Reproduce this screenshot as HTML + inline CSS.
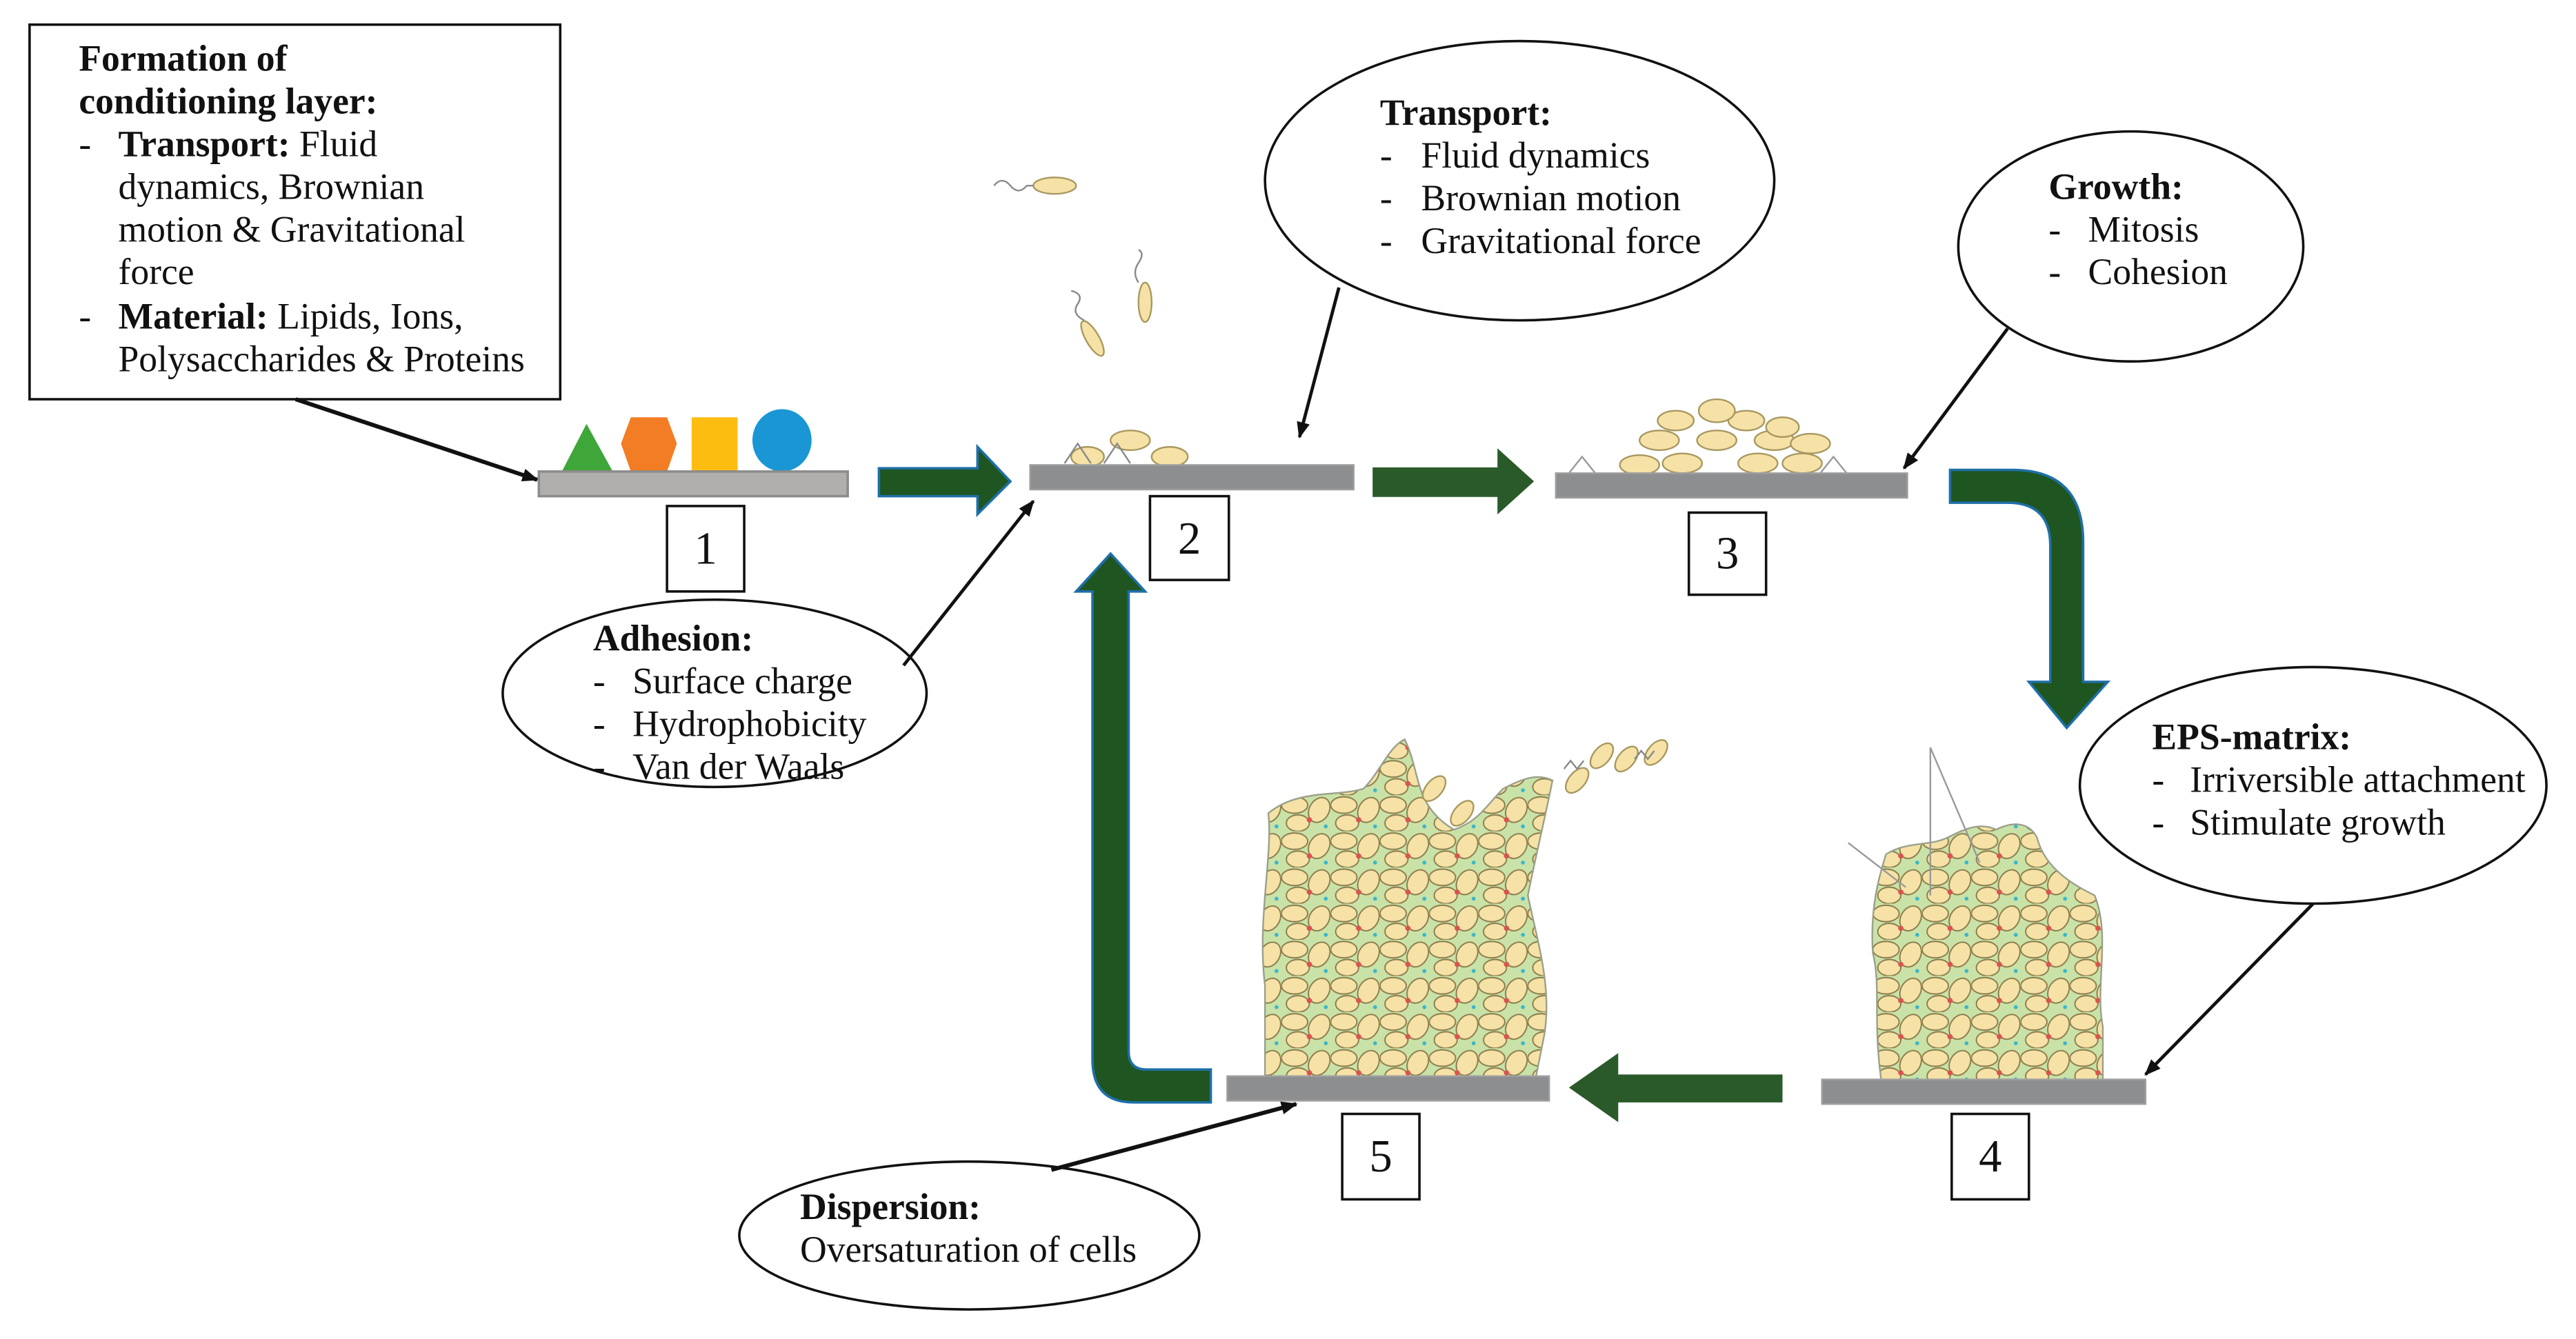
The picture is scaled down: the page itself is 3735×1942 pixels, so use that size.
<!DOCTYPE html>
<html><head><meta charset="utf-8"><style>
html,body{margin:0;padding:0;background:#fff}
svg{display:block}
text{font-family:"Liberation Serif",serif;font-size:22.5px;fill:#111}
.b{font-weight:bold}
</style></head><body>
<svg width="3735" height="1942" viewBox="0 0 1568 815" preserveAspectRatio="none" xmlns="http://www.w3.org/2000/svg">
<defs>
<marker id="ah" markerWidth="10" markerHeight="8" refX="9" refY="4" orient="auto" markerUnits="userSpaceOnUse"><path d="M0,0 L10,4 L0,8 z" fill="#111"/></marker>
<pattern id="cells" width="30" height="22" patternUnits="userSpaceOnUse">
<rect width="30" height="22" fill="#c9e2a8"/>
<ellipse cx="8" cy="6" rx="8" ry="5" fill="#f6e2a6" stroke="#8a7a4a" stroke-width="0.8"/>
<ellipse cx="23" cy="9" rx="6" ry="8" fill="#f6e2a6" stroke="#8a7a4a" stroke-width="0.8" transform="rotate(30 23 9)"/>
<ellipse cx="10" cy="17" rx="7" ry="5" fill="#f6e2a6" stroke="#8a7a4a" stroke-width="0.8"/>
<circle cx="17" cy="15" r="1.6" fill="#d9534f"/>
<circle cx="27" cy="19" r="1.2" fill="#3bb6c8"/>
</pattern>
<clipPath id="b5"><path d="M770,655 L770,600 C765,560 775,520 772,495 C790,480 815,485 830,480 C840,470 845,455 855,450 C865,470 860,490 885,505 C900,500 905,490 915,480 C925,475 935,470 945,475 C940,500 935,520 930,545 C935,570 945,600 940,630 L935,655 Z"/></clipPath>
<clipPath id="b4"><path d="M1145,657 C1140,620 1145,600 1140,580 C1138,550 1145,530 1148,520 C1160,512 1175,515 1185,510 C1195,505 1205,500 1215,505 C1225,500 1235,500 1240,510 C1245,530 1265,540 1275,545 C1285,570 1275,600 1280,625 L1280,657 Z"/></clipPath>
</defs>

<!-- Box 1 -->
<rect x="18" y="15" width="323" height="228" fill="#fff" stroke="#111" stroke-width="1.5"/>
<text x="48" y="43" class="b">Formation of</text>
<text x="48" y="69" class="b">conditioning layer:</text>
<text x="48" y="95">-</text><text x="72" y="95"><tspan class="b">Transport:</tspan> Fluid</text>
<text x="72" y="121">dynamics, Brownian</text>
<text x="72" y="147">motion &amp; Gravitational</text>
<text x="72" y="173">force</text>
<text x="48" y="200">-</text><text x="72" y="200"><tspan class="b">Material:</tspan> Lipids, Ions,</text>
<text x="72" y="226">Polysaccharides &amp; Proteins</text>
<line x1="180" y1="243" x2="327" y2="292" stroke="#111" stroke-width="2.5" marker-end="url(#ah)"/>

<!-- Stage 1 -->
<polygon points="342,287 357,258 373,287" fill="#3fa63a"/>
<polygon points="384,254 406,254 412,270 406,287 384,287 378,270" fill="#f37d24"/>
<rect x="421" y="254" width="28" height="33" fill="#fdbd10"/>
<ellipse cx="476" cy="268" rx="18" ry="19" fill="#1b96d4"/>
<rect x="328" y="287" width="188" height="15" fill="#b1aeae" stroke="#8c8c8c" stroke-width="1.5"/>
<rect x="406" y="308" width="47" height="52" fill="#fff" stroke="#111" stroke-width="1.5"/>
<text x="429.5" y="343" text-anchor="middle" style="font-size:28px">1</text>

<!-- green arrow 1->2 -->
<path d="M535,285 L595,285 L595,272 L615,293 L595,313 L595,302 L535,302 Z" fill="#1f5520" stroke="#1f6fa8" stroke-width="1.5"/>

<!-- Stage 2 -->
<g fill="#f6e2a6" stroke="#a89860" stroke-width="1">
<ellipse cx="642" cy="113" rx="13" ry="5"/>
<ellipse cx="697" cy="184" rx="4" ry="12"/>
<ellipse cx="665" cy="206" rx="4" ry="12" transform="rotate(-30 665 206)"/>
<ellipse cx="662" cy="278" rx="10" ry="6"/><ellipse cx="688" cy="268" rx="12" ry="6"/><ellipse cx="712" cy="278" rx="11" ry="6"/>
</g>
<g fill="none" stroke="#888" stroke-width="1"><path d="M605,113 q5,-6 10,0 t10,0 l4,0"/><path d="M693,172 q-4,-6 0,-12 t0,-8"/><path d="M660,195 q-8,-4 -4,-10 t-4,-8"/><path d="M648,282 l8,-12 l8,12 M672,282 l8,-12 l8,12"/></g>
<rect x="627" y="283" width="197" height="15" fill="#8d8e90" stroke="#a0a0a0"/>
<rect x="700" y="302" width="48" height="51" fill="#fff" stroke="#111" stroke-width="1.5"/>
<text x="724" y="337" text-anchor="middle" style="font-size:28px">2</text>

<!-- Transport ellipse -->
<ellipse cx="925" cy="110" rx="155" ry="85" fill="#fff" stroke="#111" stroke-width="1.5"/>
<text x="840" y="76" class="b">Transport:</text>
<text x="840" y="102">-</text><text x="865" y="102">Fluid dynamics</text>
<text x="840" y="128">-</text><text x="865" y="128">Brownian motion</text>
<text x="840" y="154">-</text><text x="865" y="154">Gravitational force</text>
<line x1="815" y1="175" x2="791" y2="266" stroke="#111" stroke-width="2" marker-end="url(#ah)"/>

<!-- green arrow 2->3 -->
<path d="M836,285 L912,285 L912,274 L933,293 L912,312 L912,302 L836,302 Z" fill="#2a5a2a" stroke="#2a5a2a"/>

<!-- Stage 3 -->
<g fill="#f6e2a6" stroke="#a89860" stroke-width="1">
<ellipse cx="998" cy="283" rx="12" ry="6"/><ellipse cx="1024" cy="282" rx="12" ry="6"/><ellipse cx="1070" cy="282" rx="12" ry="6"/><ellipse cx="1097" cy="282" rx="12" ry="6"/>
<ellipse cx="1010" cy="268" rx="12" ry="6"/><ellipse cx="1045" cy="268" rx="12" ry="6"/><ellipse cx="1080" cy="268" rx="12" ry="6"/><ellipse cx="1102" cy="270" rx="12" ry="6"/>
<ellipse cx="1020" cy="256" rx="11" ry="6"/><ellipse cx="1063" cy="256" rx="11" ry="6"/><ellipse cx="1045" cy="250" rx="11" ry="7"/><ellipse cx="1085" cy="260" rx="10" ry="6"/>
</g>
<path d="M955,288 l8,-10 l8,10 M1108,288 l8,-10 l8,10" fill="none" stroke="#999"/>
<rect x="947" y="288" width="214" height="15" fill="#8d8e90" stroke="#a0a0a0"/>
<rect x="1028" y="312" width="47" height="50" fill="#fff" stroke="#111" stroke-width="1.5"/>
<text x="1051.5" y="346" text-anchor="middle" style="font-size:28px">3</text>

<!-- Growth -->
<ellipse cx="1297" cy="150" rx="105" ry="70" fill="#fff" stroke="#111" stroke-width="1.5"/>
<text x="1247" y="121" class="b">Growth:</text>
<text x="1247" y="147">-</text><text x="1271" y="147">Mitosis</text>
<text x="1247" y="173">-</text><text x="1271" y="173">Cohesion</text>
<line x1="1222" y1="200" x2="1159" y2="285" stroke="#111" stroke-width="2" marker-end="url(#ah)"/>

<!-- curved arrow 3->4 -->
<path d="M1187,286 L1225,286 Q1268,286 1268,330 L1268,415 L1283,415 L1258,443 L1235,415 L1248,415 L1248,332 Q1248,306 1222,306 L1187,306 Z" fill="#1f5520" stroke="#1f6fa8" stroke-width="1.5"/>

<!-- EPS ellipse -->
<ellipse cx="1408" cy="478" rx="142" ry="72" fill="#fff" stroke="#111" stroke-width="1.5"/>
<text x="1310" y="456" class="b">EPS-matrix:</text>
<text x="1310" y="482">-</text><text x="1333" y="482">Irriversible attachment</text>
<text x="1310" y="508">-</text><text x="1333" y="508">Stimulate growth</text>
<line x1="1408" y1="550" x2="1306" y2="654" stroke="#111" stroke-width="2" marker-end="url(#ah)"/>

<!-- Stage 4 -->
<g clip-path="url(#b4)"><rect x="1130" y="490" width="160" height="170" fill="url(#cells)"/></g>
<path d="M1145,657 C1140,620 1145,600 1140,580 C1138,550 1145,530 1148,520 C1160,512 1175,515 1185,510 C1195,505 1205,500 1215,505 C1225,500 1235,500 1240,510 C1245,530 1265,540 1275,545 C1285,570 1275,600 1280,625 L1280,657" fill="none" stroke="#9aa08a" stroke-width="1"/>
<path d="M1175,545 L1175,455 L1205,525 M1125,513 L1160,540" fill="none" stroke="#999"/>
<rect x="1109" y="657" width="197" height="15" fill="#8d8e90" stroke="#a0a0a0"/>
<rect x="1188" y="678" width="47" height="52" fill="#fff" stroke="#111" stroke-width="1.5"/>
<text x="1211.5" y="713" text-anchor="middle" style="font-size:28px">4</text>

<!-- arrow 4->5 -->
<path d="M1085,654 L985,654 L985,641 L955,662 L985,683 L985,671 L1085,671 Z" fill="#2a5a2a"/>

<!-- Stage 5 -->
<g clip-path="url(#b5)"><rect x="760" y="440" width="200" height="220" fill="url(#cells)"/></g>
<path d="M770,655 L770,600 C765,560 775,520 772,495 C790,480 815,485 830,480 C840,470 845,455 855,450 C865,470 860,490 885,505 C900,500 905,490 915,480 C925,475 935,470 945,475 C940,500 935,520 930,545 C935,570 945,600 940,630 L935,655" fill="none" stroke="#9aa08a" stroke-width="1"/>
<g fill="#f6e2a6" stroke="#a89860" stroke-width="1">
<ellipse cx="873" cy="480" rx="5" ry="9" transform="rotate(40 873 480)"/><ellipse cx="890" cy="495" rx="5" ry="9" transform="rotate(40 890 495)"/>
<ellipse cx="960" cy="475" rx="5" ry="9" transform="rotate(40 960 475)"/><ellipse cx="975" cy="460" rx="5" ry="9" transform="rotate(40 975 460)"/>
<ellipse cx="990" cy="462" rx="5" ry="9" transform="rotate(40 990 462)"/><ellipse cx="1008" cy="458" rx="5" ry="9" transform="rotate(40 1008 458)"/>
</g>
<path d="M952,468 l4,-5 l4,5 l4,-5 M995,462 l4,-5 l4,5 l4,-5" fill="none" stroke="#888"/>
<rect x="747" y="655" width="196" height="15" fill="#8d8e90" stroke="#a0a0a0"/>
<rect x="817" y="678" width="47" height="52" fill="#fff" stroke="#111" stroke-width="1.5"/>
<text x="840.5" y="713" text-anchor="middle" style="font-size:28px">5</text>

<!-- Dispersion -->
<ellipse cx="590" cy="752" rx="140" ry="45" fill="#fff" stroke="#111" stroke-width="1.5"/>
<text x="487" y="742" class="b">Dispersion:</text>
<text x="487" y="768">Oversaturation of cells</text>
<line x1="640" y1="712" x2="789" y2="672" stroke="#111" stroke-width="2.5" marker-end="url(#ah)"/>

<!-- up arrow 5->2 -->
<path d="M737,651 L737,671 L690,671 Q665,671 665,645 L665,360 L655,360 L676,337 L697,360 L687,360 L687,640 Q687,651 698,651 Z" fill="#1f5520" stroke="#1f6fa8" stroke-width="1.5"/>

<!-- Adhesion -->
<ellipse cx="435" cy="422" rx="129" ry="57" fill="#fff" stroke="#111" stroke-width="1.5"/>
<text x="361" y="396" class="b">Adhesion:</text>
<text x="361" y="422">-</text><text x="385" y="422">Surface charge</text>
<text x="361" y="448">-</text><text x="385" y="448">Hydrophobicity</text>
<text x="361" y="474">-</text><text x="385" y="474">Van der Waals</text>
<line x1="550" y1="405" x2="629" y2="305" stroke="#111" stroke-width="2" marker-end="url(#ah)"/>
</svg>
</body></html>
